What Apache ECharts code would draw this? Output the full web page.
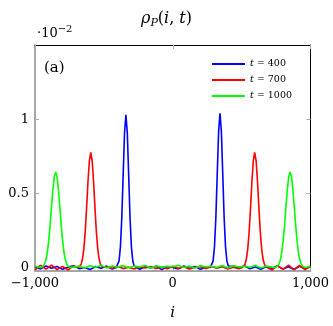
<!DOCTYPE html>
<html>
<head>
<meta charset="utf-8">
<script src="https://cdn.jsdelivr.net/npm/echarts@6/dist/echarts.min.js"></script>
<style>
    html, body { margin: 0; padding: 0; background: #fff; }
    #chart { width: 333px; height: 326px; }
</style>
</head>
<body>
<div id="chart"></div>
<script>
// 图例名称 / 颜色
const seriesNames = ['t = 400', 't = 700', 't = 1000']
const seriesColors = ['#0000ff', '#ff0000', '#00ff00']

// 峰的位置 (左, 右)
const peakCenters = [[-340, 343], [-595, 595], [-850, 852]]
// 峰形: 偏移量与数值 (单位 10^-2)
const blueOffsets = [0, 10, 20, 30, 40, 50, 60, 70]
const blueLeft = [1.03, 0.909, 0.625, 0.334, 0.139, 0.045, 0.011, 0.002]
const blueRight = [1.04, 0.918, 0.631, 0.338, 0.141, 0.046, 0.012, 0.002]
const redOffsets = [0, 10, 20, 30, 40, 50, 60, 70, 80, 90]
const redLeft = [0.776, 0.722, 0.584, 0.409, 0.248, 0.131, 0.060, 0.024, 0.008, 0.002]
const redRight = [0.776, 0.722, 0.584, 0.409, 0.248, 0.131, 0.060, 0.024, 0.008, 0.002]
const greenOffsets = [0, 10, 20, 30, 40, 50, 60, 70, 80, 90, 100, 110]
const greenLeft = [0.645, 0.613, 0.528, 0.412, 0.290, 0.184, 0.106, 0.055, 0.026, 0.011, 0.004, 0.001]
const greenRight = [0.645, 0.613, 0.528, 0.412, 0.290, 0.184, 0.106, 0.055, 0.026, 0.011, 0.004, 0.001]

// 基线噪声 (i = -1000, -960, ..., 1000)
const blueNoise = [0.006,-0.008,0.012,-0.004,0.009,-0.011,0.004,0.014,-0.006,0.002,
    -0.012,0.008,-0.003,0.011,-0.009,0.005,0.013,-0.007,0.003,-0.010,
    0.007,-0.002,0.010,-0.013,0.006,0.001,-0.008,0.012,-0.005,0.009,
    -0.011,0.004,0.011,-0.006,0.002,-0.009,0.008,-0.004,0.013,-0.007,
    0.005,-0.010,0.009,-0.003,0.012,-0.008,0.006,-0.012,0.010,-0.005,0.007]
const redNoise = [-0.014,0.016,-0.010,0.018,-0.012,0.009,-0.015,0.012,-0.006,0.010,
    -0.004,0.007,-0.009,0.005,-0.003,0.008,-0.006,0.004,-0.008,0.006,
    -0.002,0.009,-0.005,0.003,-0.007,0.010,-0.004,0.006,-0.009,0.002,
    0.007,-0.005,0.008,-0.003,0.006,-0.008,0.004,-0.006,0.009,-0.004,
    0.011,-0.013,0.010,-0.016,0.014,-0.011,0.017,-0.013,0.015,-0.012,0.010]
const greenNoise = [0.010,-0.004,0.014,0.002,0.012,-0.003,0.015,0.004,0.011,-0.002,
    0.013,0.003,0.016,-0.001,0.012,0.005,0.014,0.000,0.011,0.006,
    0.015,-0.002,0.013,0.004,0.010,0.007,0.016,0.001,0.012,-0.003,
    0.014,0.005,0.011,0.002,0.015,-0.001,0.013,0.006,0.010,0.003,
    0.016,-0.002,0.012,0.004,0.014,0.000,0.011,0.005,0.013,-0.001,0.012]

// 坐标轴刻度
const xTicks = [-1000, 0, 1000]
const xTickLabels = ['\u22121,000', '0', '1,000']
const yTicks = [0, 0.5, 1]
const yTickLabels = ['0', '0.5', '1']

// 合并噪声与峰
function buildSeries (noise, offsets, left, right, centers) {
    let pts = []
    let extent = offsets[offsets.length - 1]
    for (let k = 0; k < noise.length; k++) {
        let x = -1000 + k * 40
        if (Math.abs(x - centers[0]) <= extent || Math.abs(x - centers[1]) <= extent) continue
        pts.push([x, noise[k]])
    }
    for (let j = 0; j < offsets.length; j++) {
        pts.push([centers[0] - offsets[j], left[j]])
        if (offsets[j] !== 0) pts.push([centers[0] + offsets[j], left[j]])
        pts.push([centers[1] - offsets[j], right[j]])
        if (offsets[j] !== 0) pts.push([centers[1] + offsets[j], right[j]])
    }
    pts.sort(function (a, b) { return a[0] - b[0] })
    return pts
}

const dataList = [
    buildSeries(blueNoise, blueOffsets, blueLeft, blueRight, peakCenters[0]),
    buildSeries(redNoise, redOffsets, redLeft, redRight, peakCenters[1]),
    buildSeries(greenNoise, greenOffsets, greenLeft, greenRight, peakCenters[2])
]

const serif = 'DejaVu Serif'
const tickStyle = { color: '#aaa', width: 1 }

let chart = echarts.init(document.getElementById('chart'), null, { renderer: 'canvas' })
let option = {
    animation: false,
    backgroundColor: '#fff',
    grid: { left: 35, right: 22.5, top: 45, bottom: 55.3 },
    title: {
        text: '{r|ρ}{s|P}{n|(}{r|i}{n|, }{r|t}{n|)}',
        left: 'center',
        top: 4,
        textStyle: {
            fontWeight: 'normal',
            rich: {
                r: { fontFamily: serif, fontStyle: 'italic', fontWeight: 'normal', fontSize: 16, color: '#000' },
                s: { fontFamily: serif, fontStyle: 'italic', fontWeight: 'normal', fontSize: 11, color: '#000', padding: [9, 0, 0, 0] },
                n: { fontFamily: serif, fontWeight: 'normal', fontSize: 16, color: '#000' }
            }
        }
    },
    legend: {
        orient: 'vertical',
        right: 36,
        top: 54,
        icon: 'rect',
        itemWidth: 33,
        itemHeight: 1.8,
        itemGap: 6,
        data: seriesNames,
        formatter: function (name) {
            return '{it|t}{n|' + name.slice(1) + '}'
        },
        textStyle: {
            rich: {
                it: { fontFamily: serif, fontStyle: 'italic', fontSize: 9.5, color: '#000', height: 11 },
                n: { fontFamily: serif, fontSize: 9.5, color: '#000', height: 11 }
            }
        }
    },
    graphic: [
        {
            type: 'text', left: 37, top: 24,
            style: {
                text: '{n|·10}{s|\u22122}',
                rich: {
                    n: { fontFamily: serif, fontSize: 13, fill: '#000' },
                    s: { fontFamily: serif, fontSize: 10, fill: '#000', padding: [0, 0, 9, 0] }
                }
            }
        },
        {
            type: 'text', left: 44, top: 61,
            style: { text: '(a)', fontFamily: serif, fontSize: 15, fill: '#000' }
        }
    ],
    xAxis: [
        {
            type: 'value', min: -1000, max: 1000, position: 'bottom',
            name: 'i', nameLocation: 'middle', nameGap: 35,
            nameTextStyle: { fontFamily: serif, fontStyle: 'italic', fontSize: 15, color: '#000' },
            axisLine: { show: true, onZero: false, lineStyle: { color: '#888', width: 1.5 } },
            axisTick: { inside: true, length: 4, customValues: xTicks, lineStyle: tickStyle },
            axisLabel: {
                customValues: xTicks, margin: 6,
                fontFamily: serif, fontSize: 13, color: '#000',
                formatter: function (v) { return xTickLabels[xTicks.indexOf(v)] }
            },
            splitLine: { show: false }
        },
        {
            type: 'value', min: -1000, max: 1000, position: 'top',
            axisLine: { show: true, onZero: false, lineStyle: { color: '#000', width: 1 } },
            axisTick: { inside: true, length: 4, customValues: xTicks, lineStyle: tickStyle },
            axisLabel: { show: false },
            splitLine: { show: false }
        }
    ],
    yAxis: [
        {
            type: 'value', min: -0.02, max: 1.5, position: 'left',
            axisLine: { show: true, onZero: false, lineStyle: { color: '#888', width: 1.5 } },
            axisTick: { show: true, inside: true, length: 4, customValues: yTicks, lineStyle: tickStyle },
            axisLabel: {
                customValues: yTicks, margin: 6,
                fontFamily: serif, fontSize: 13, color: '#000',
                formatter: function (v) { return yTickLabels[yTicks.indexOf(v)] }
            },
            splitLine: { show: false }
        },
        {
            type: 'value', min: -0.02, max: 1.5, position: 'right',
            axisLine: { show: true, onZero: false, lineStyle: { color: '#000', width: 1 } },
            axisTick: { show: true, inside: true, length: 4, customValues: yTicks, lineStyle: tickStyle },
            axisLabel: { show: false },
            splitLine: { show: false }
        }
    ],
    series: seriesNames.map(function (name, k) {
        return {
            name: name,
            type: 'line',
            xAxisIndex: 0,
            yAxisIndex: 0,
            data: dataList[k],
            symbol: 'none',
            smooth: false,
            lineStyle: { color: seriesColors[k], width: 1.6 },
            itemStyle: { color: seriesColors[k] },
            z: 2 + k
        }
    })
}
chart.setOption(option)
</script>
</body>
</html>
